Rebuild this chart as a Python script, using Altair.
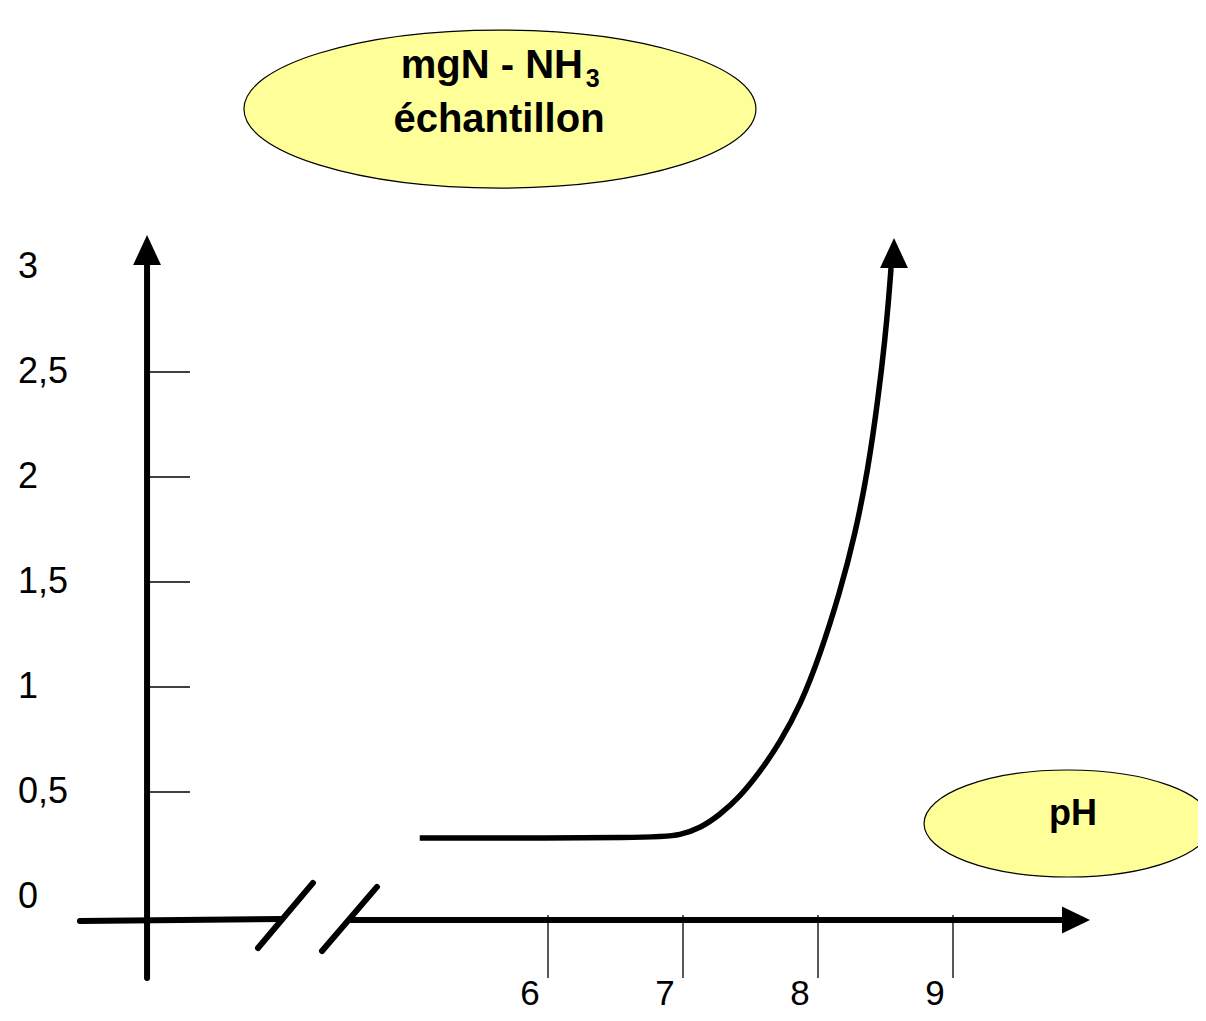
import altair as alt
import pandas as pd

# ---------------- data ----------------
ph_curve = [5.05, 6.81, 6.98, 7.13, 7.27, 7.42, 7.57, 7.72, 7.87, 8.015, 8.163, 8.274, 8.370, 8.444, 8.496, 8.526, 8.541]
mg_curve = [0.281, 0.281, 0.295, 0.329, 0.390, 0.476, 0.595, 0.738, 0.914, 1.152, 1.452, 1.724, 2.033, 2.367, 2.652, 2.867, 2.995]

y_tick_values = [0, 0.5, 1, 1.5, 2, 2.5, 3]
y_tick_labels = ["0", "0,5", "1", "1,5", "2", "2,5", "3"]
y_tick_marks = [0.5, 1, 1.5, 2, 2.5]
x_tick_values = [6, 7, 8, 9]
x_tick_labels = ["6", "7", "8", "9"]

title_line1 = "mgN - NH"
title_sub = "3"
title_line2 = "échantillon"
x_title = "pH"

# ---------------- layout ----------------
W, H = 1190, 1005
PX_X, PX_Y = 135.0, 210.0
X_DOM = [2.0, 2.0 + W / PX_X]
Y_TOP = 889.0 / PX_Y
Y_DOM = [Y_TOP - H / PX_Y, Y_TOP]
xs = alt.Scale(domain=X_DOM, nice=False, zero=False)
ys = alt.Scale(domain=Y_DOM, nice=False, zero=False)

AX_X = 3.03      # position of the vertical axis (pH units)
AX_Y = -0.11     # position of the horizontal axis (mg units)
FONT = "Liberation Sans"


def X(f="x"):
    return alt.X(f, type="quantitative", scale=xs, axis=None)


def Y(f="y"):
    return alt.Y(f, type="quantitative", scale=ys, axis=None)


# thick axis segments
thick = pd.DataFrame([
    dict(x=AX_X, y=-0.386, x2=AX_X, y2=3.02),
    dict(x=2.533, y=-0.114, x2=4.03, y2=-0.105),
    dict(x=4.533, y=AX_Y, x2=9.81, y2=AX_Y),
    dict(x=3.852, y=-0.243, x2=4.259, y2=0.067),
    dict(x=4.326, y=-0.257, x2=4.733, y2=0.048),
])
thick_layer = alt.Chart(thick).mark_rule(
    color="black", strokeWidth=6, strokeCap="round"
).encode(x=X("x"), y=Y("y"), x2="x2", y2="y2")

# thin tick marks
ticks_rows = [dict(x=AX_X, y=v, x2=3.348, y2=v) for v in y_tick_marks]
ticks_rows += [dict(x=v, y=-0.086, x2=v, y2=-0.386) for v in x_tick_values]
ticks = pd.DataFrame(ticks_rows)
tick_layer = alt.Chart(ticks).mark_rule(color="black", strokeWidth=1.3).encode(
    x=X("x"), y=Y("y"), x2="x2", y2="y2"
)

# curve
curve = pd.DataFrame({"x": ph_curve, "y": mg_curve})
curve_layer = alt.Chart(curve).mark_line(
    color="black", strokeWidth=5.5, interpolate="basis"
).encode(x=X("x"), y=Y("y"), order="x:Q")

# arrow heads
UP = "M0,0L0.93,2L-0.93,2Z"
RIGHT = "M0,0L-1.87,-0.9L-1.87,0.9Z"
up_arrows = pd.DataFrame({"x": [AX_X, 8.563], "y": [3.152, 3.138]})
up_layer = alt.Chart(up_arrows).mark_point(
    shape=UP, size=900, filled=True, color="black", opacity=1, strokeWidth=0
).encode(x=X("x"), y=Y("y"))
right_arrow = pd.DataFrame({"x": [10.015], "y": [AX_Y]})
right_layer = alt.Chart(right_arrow).mark_point(
    shape=RIGHT, size=900, filled=True, color="black", opacity=1, strokeWidth=0
).encode(x=X("x"), y=Y("y"))


def ellipse_path(b):
    k = 0.5523
    kb = round(k * b, 4)
    b = round(b, 4)
    return (f"M-1,0C-1,{-kb} {-k},{-b} 0,{-b}C{k},{-b} 1,{-kb} 1,0"
            f"C1,{kb} {k},{b} 0,{b}C{-k},{b} -1,{kb} -1,0Z")


ell1 = alt.Chart(pd.DataFrame({"x": [5.644], "y": [3.752]})).mark_point(
    shape=ellipse_path(79 / 256), size=(2 * 256) ** 2, filled=True,
    fill="#FFFF99", stroke="black", strokeWidth=1.2, opacity=1
).encode(x=X("x"), y=Y("y"))
ell2 = alt.Chart(pd.DataFrame({"x": [9.852], "y": [0.35]})).mark_point(
    shape=ellipse_path(53.5 / 144), size=(2 * 144) ** 2, filled=True,
    fill="#FFFF99", stroke="black", strokeWidth=1.2, opacity=1
).encode(x=X("x"), y=Y("y"))

# texts
t1 = alt.Chart(pd.DataFrame({"x": [6.259], "y": [3.9], "t": [title_line1]})).mark_text(
    font=FONT, fontSize=40, fontWeight="bold", align="right", baseline="alphabetic", color="black"
).encode(x=X("x"), y=Y("y"), text="t:N")
t1s = alt.Chart(pd.DataFrame({"x": [6.28], "y": [3.857], "t": [title_sub]})).mark_text(
    font=FONT, fontSize=25, fontWeight="bold", align="left", baseline="alphabetic", color="black"
).encode(x=X("x"), y=Y("y"), text="t:N")
t2 = alt.Chart(pd.DataFrame({"x": [5.637], "y": [3.643], "t": [title_line2]})).mark_text(
    font=FONT, fontSize=40, fontWeight="bold", align="center", baseline="alphabetic", color="black"
).encode(x=X("x"), y=Y("y"), text="t:N")
tph = alt.Chart(pd.DataFrame({"x": [9.889], "y": [0.343], "t": [x_title]})).mark_text(
    font=FONT, fontSize=36, fontWeight="bold", align="center", baseline="alphabetic", color="black"
).encode(x=X("x"), y=Y("y"), text="t:N")

ylab = alt.Chart(pd.DataFrame({"v": y_tick_values, "t": y_tick_labels, "x": [2.074] * len(y_tick_values)})).mark_text(
    font=FONT, fontSize=36, align="left", baseline="middle", color="black"
).encode(x=X("x"), y=Y("v"), text="t:N")
xlab = alt.Chart(pd.DataFrame({"v": x_tick_values, "t": x_tick_labels, "y": [-0.515] * len(x_tick_values)})).mark_text(
    font=FONT, fontSize=35, align="center", baseline="alphabetic", dx=-18, color="black"
).encode(x=X("v"), y=Y("y"), text="t:N")

chart = alt.layer(
    ell1, ell2, tick_layer, thick_layer, curve_layer, up_layer, right_layer,
    t1, t1s, t2, tph, ylab, xlab
).properties(
    width=W, height=H, autosize=alt.AutoSizeParams(type="none"), padding=0
).configure_view(stroke=None)

chart.save("out.html", embed_options={"renderer": "svg", "actions": False})
